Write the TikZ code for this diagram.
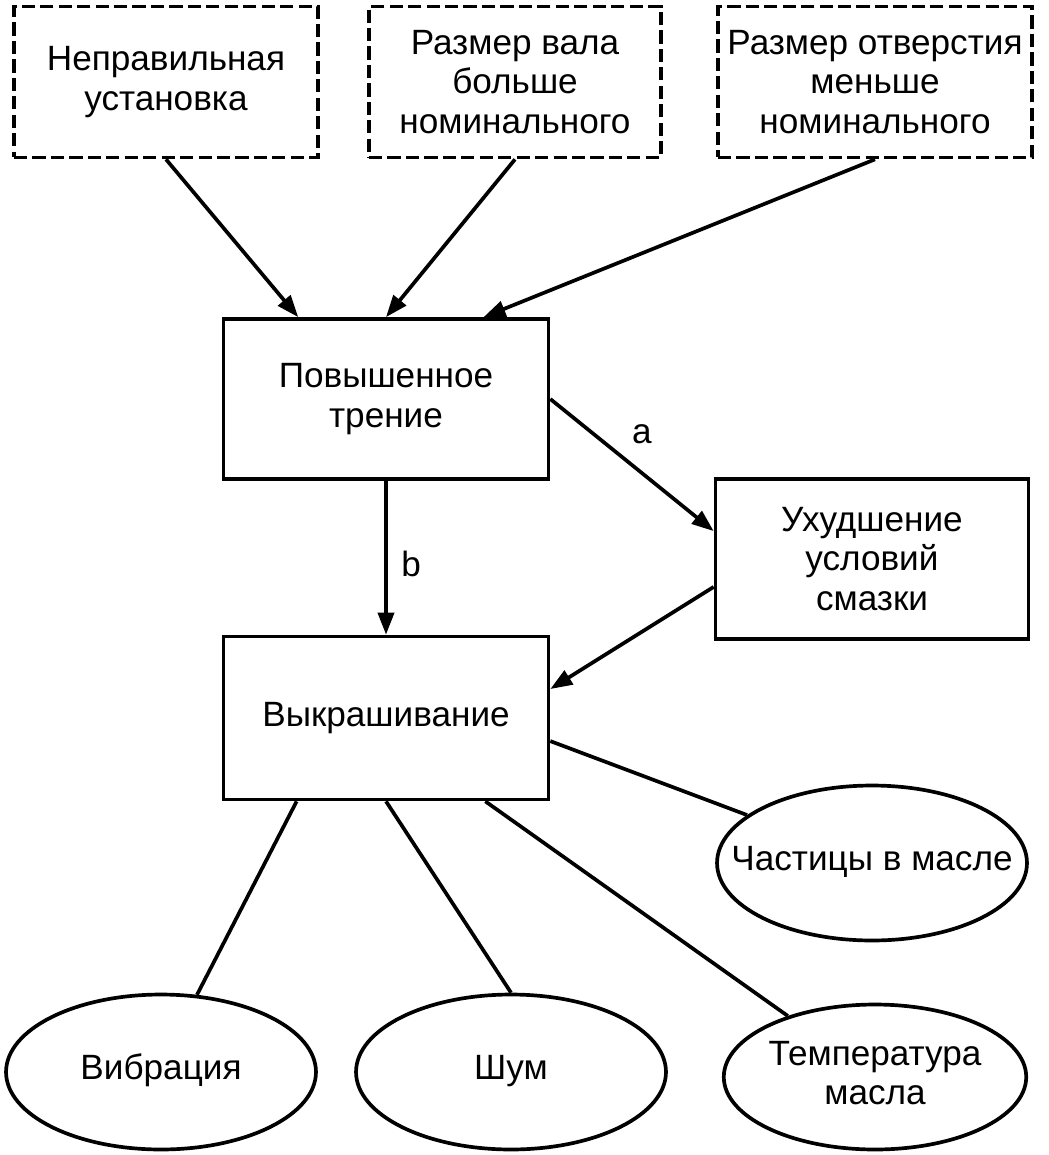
\documentclass[tikz,border=0pt]{standalone}
\usepackage{fontspec}
\setmainfont{Liberation Sans}
\usetikzlibrary{arrows.meta}
\usetikzlibrary{shapes.geometric}
\usetikzlibrary{calc}
\newcommand{\ovaltext}[1]{\makebox[0pt]{\begin{tabular}{@{}c@{}}#1\end{tabular}}}

\begin{document}
\begin{tikzpicture}[
  x=0.02cm, y=-0.02cm, line width=2.1pt,
  > = {Triangle[length=0.44cm,width=0.32cm]},
  every node/.style = {font=\fontsize{20}{22.5}\selectfont, align=center, inner sep=2pt},
  cause/.style = {draw, dash pattern=on 7.5pt off 3pt, minimum width=6.08cm, minimum height=3.02cm},
  box/.style = {draw, minimum width=6.5cm, minimum height=3.2cm},
  sign/.style = {draw, ellipse, minimum width=6.2cm, minimum height=3.1cm, inner sep=0pt}
  ]
	\useasboundingbox (0,0) rectangle (1048,1155);

	% causes
	\node[cause] (inst) at (166,82) {Неправильная\\установка};
	\node[cause, minimum width=5.84cm] (shaft) at (515,82) {Размер вала\\больше\\номинального};
	\node[cause, minimum width=6.28cm] (hole) at (875,82) {Размер отверстия\\меньше\\номинального};

	% failure chain
	\node[box] (frict) at (386,399) {Повышенное\\трение};
	\node[box, minimum width=6.26cm] (lubr) at (872,559) {Ухудшение\\условий\\смазки};
	\node[box, minimum height=3.26cm] (spall) at (386,718) {Выкрашивание};

	% signs
	\node[sign] (parts) at (872,863) {\ovaltext{Частицы в масле}};
	\node[sign] (vib) at (161,1072) {\ovaltext{Вибрация}};
	\node[sign] (noise) at (511,1072) {\ovaltext{Шум}};
	\node[sign, minimum width=6.05cm, minimum height=2.9cm] (temp) at (875,1077) {\ovaltext{Температура\\масла}};

	\draw[->] (inst.south) -- (frict.137);
	\draw[->] (shaft.south) -- (frict.north);
	\draw[->] (hole.south) -- (frict.40);

	\draw[->] (frict.east) -- (lubr.170) node[midway, above, xshift=0.2cm, yshift=0.32cm] (tag a) {a};
	\draw[->] (frict.south) -- (spall.north) node[midway, right, xshift=0.2cm, yshift=-0.12cm] (tag b) {b};
	\draw[->] (lubr.190) -- (spall.10);

	\draw (spall.-8) -- (parts.159);
	\draw (spall.223) -- (vib.65);
	\draw (spall.south) -- (noise.north);
	\draw (spall.-40) -- (temp.145);

\end{tikzpicture}
\end{document}
